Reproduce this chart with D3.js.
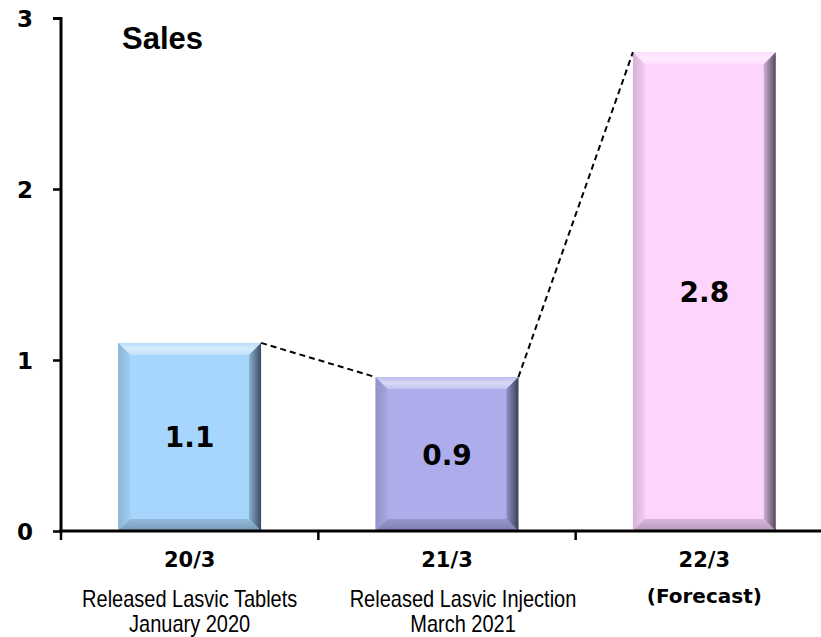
<!DOCTYPE html>
<html>
<head>
<meta charset="utf-8">
<script src="https://cdn.jsdelivr.net/npm/d3@7"></script>
<style>
  html, body { margin: 0; padding: 0; background: #fff; }
  svg { display: block; }
</style>
</head>
<body>
<svg id="chart" width="821" height="637"></svg>
<script>
// Fiscal years, sales values and bar colours
const categories = ["20/3", "21/3", "22/3"];
const sales = [1.1, 0.9, 2.8];
const noteLines = [
  ["Released Lasvic Tablets", "January 2020"],
  ["Released Lasvic Injection", "March 2021"],
  []
];
const boldNotes = ["", "", "(Forecast)"];
const barColors = ["#a6d6fb", "#adadeb", "#fcd4fc"];
const yTicks = [0, 1, 2, 3];

const svg = d3.select("#chart");
const x = d3.scaleBand().domain(categories).range([61, 833]).paddingInner(0.445).paddingOuter(0.2225);
const y = d3.scaleLinear().domain([0, 3]).range([531, 18]);

const defs = svg.append("defs");
const bevel = 12;
const boldFont = "Verdana, 'DejaVu Sans', sans-serif";

// Gradients for the bevelled edges of each bar
barColors.forEach((c, i) => {
  const toDark = t => d3.interpolateRgb(c, "#1a1a2a")(t);
  const toLight = t => d3.interpolateRgb(c, "#ffffff")(t);
  const grad = (id, vertical, stops) => {
    const g = defs.append("linearGradient").attr("id", id)
      .attr("x1", 0).attr("y1", 0).attr("x2", vertical ? 0 : 1).attr("y2", vertical ? 1 : 0);
    stops.forEach(([o, col]) => g.append("stop").attr("offset", o).attr("stop-color", col));
  };
  grad("r" + i, false, [[0, toDark(0.2)], [1, toDark(0.75)]]);
  grad("t" + i, true, [[0, toLight(0.2)], [0.5, toLight(0.55)], [1, toLight(0.25)]]);
  grad("b" + i, true, [[0, toDark(0.15)], [1, toDark(0.32)]]);
  grad("l" + i, false, [[0, toDark(0.18)], [1, toDark(0.05)]]);
});

// Bars
const bars = svg.append("g").selectAll("g").data(categories).join("g");
bars.each(function (cat, i) {
  const g = d3.select(this);
  const x0 = x(cat), x1 = x(cat) + x.bandwidth();
  const y0 = y(sales[i]), y1 = y(0);
  const b = bevel;
  const poly = pts => pts.map(p => p.join(",")).join(" ");
  g.append("rect").attr("x", x0).attr("y", y0).attr("width", x1 - x0).attr("height", y1 - y0).attr("fill", barColors[i]);
  g.append("polygon").attr("points", poly([[x0, y0], [x1, y0], [x1 - b, y0 + b], [x0 + b, y0 + b]])).attr("fill", `url(#t${i})`);
  g.append("polygon").attr("points", poly([[x0, y0], [x0 + b, y0 + b], [x0 + b, y1 - b], [x0, y1]])).attr("fill", `url(#l${i})`);
  g.append("polygon").attr("points", poly([[x0, y1], [x0 + b, y1 - b], [x1 - b, y1 - b], [x1, y1]])).attr("fill", `url(#b${i})`);
  g.append("polygon").attr("points", poly([[x1, y0], [x1, y1], [x1 - b, y1 - b], [x1 - b, y0 + b]])).attr("fill", `url(#r${i})`);
  // value label in the middle of the bar
  g.append("text")
    .attr("x", (x0 + x1) / 2).attr("y", (y0 + y1) / 2 + 1)
    .attr("text-anchor", "middle").attr("dominant-baseline", "central")
    .attr("font-family", boldFont).attr("font-weight", "bold")
    .attr("font-size", 28).attr("fill", "#000")
    .text(sales[i].toFixed(1));
});

// Dashed connectors between neighbouring bar tops
for (let i = 0; i < categories.length - 1; i++) {
  svg.append("line")
    .attr("x1", x(categories[i]) + x.bandwidth()).attr("y1", y(sales[i]))
    .attr("x2", x(categories[i + 1])).attr("y2", y(sales[i + 1]))
    .attr("stroke", "#000").attr("stroke-width", 2).attr("stroke-dasharray", "6,4");
}

// Y axis
const yAxis = svg.append("g").attr("transform", "translate(61,0)")
  .call(d3.axisLeft(y).tickValues(yTicks).tickFormat(d3.format("d")).tickSize(8).tickPadding(28));
yAxis.select(".domain").attr("stroke", "#000").attr("stroke-width", 3).attr("d", "M-8,18.5H0V531");
yAxis.selectAll(".tick line").attr("stroke", "#000").attr("stroke-width", 2.5);
yAxis.selectAll(".tick text").attr("font-family", boldFont)
  .attr("font-weight", "bold").attr("font-size", 23).attr("fill", "#000")
  .attr("text-anchor", "middle").attr("dy", "0.36em");

// X axis with ticks at category boundaries
const xAxis = svg.append("g").attr("transform", "translate(0,531)");
xAxis.append("line").attr("x1", 59.5).attr("x2", 833).attr("y1", 0).attr("y2", 0).attr("stroke", "#000").attr("stroke-width", 3);
const edges = categories.map(c => x(c) - x.step() * x.paddingInner() / 2);
xAxis.selectAll("line.edge").data(edges).join("line").attr("class", "edge")
  .attr("x1", d => d).attr("x2", d => d).attr("y1", 0).attr("y2", 9)
  .attr("stroke", "#000").attr("stroke-width", 2.5);

// Category labels and release notes
const noteShift = [0, 16, 0];
const lab = svg.append("g");
categories.forEach((c, i) => {
  const cx = x(c) + x.bandwidth() / 2;
  lab.append("text").attr("x", cx).attr("y", 567).attr("text-anchor", "middle")
    .attr("font-family", boldFont).attr("font-weight", "bold").attr("font-size", 21)
    .text(c);
  if (boldNotes[i]) {
    lab.append("text").attr("x", cx).attr("y", 603).attr("text-anchor", "middle")
      .attr("font-family", boldFont).attr("font-weight", "bold").attr("font-size", 20)
      .text(boldNotes[i]);
  }
  noteLines[i].forEach((t, k) => {
    lab.append("text")
      .attr("transform", `translate(${cx + noteShift[i]},${607 + k * 25}) scale(1,1.17)`)
      .attr("text-anchor", "middle")
      .attr("font-family", "'Liberation Sans', Arial, sans-serif")
      .attr("font-size", 20).text(t);
  });
});

// Title
svg.append("text").attr("x", 122).attr("y", 49)
  .attr("font-family", "'Liberation Sans', Arial, sans-serif").attr("font-weight", "bold").attr("font-size", 31)
  .text("Sales");
</script>
</body>
</html>
